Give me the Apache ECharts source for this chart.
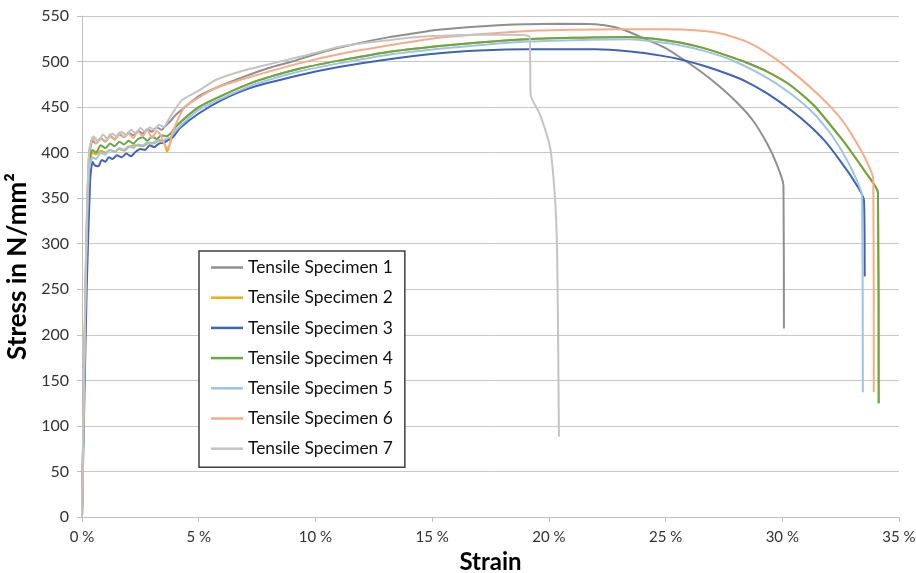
<!DOCTYPE html>
<html>
<head>
<meta charset="utf-8">
<title>Tensile test</title>
<script src="https://cdn.jsdelivr.net/npm/echarts@6/dist/echarts.min.js"></script>
<style>
  html, body {margin:0;padding:0;background:#fff;}
  #chart {width:916px;height:573px;}
</style>
</head>
<body>
<div id="chart"></div>
<script>
// strain in %, stress in N/mm2
var strain1 = [0, 0.15, 0.3, 0.45, 0.6, 0.8, 1.0, 1.2, 1.4, 1.6, 1.8, 2.0, 2.2, 2.4, 2.6, 2.8, 3.0, 3.2, 3.4, 3.6, 3.8, 4.0, 4.5, 5, 6, 7, 8, 9, 10, 11, 12, 13, 14, 15, 16, 17, 18, 19, 20.5, 22, 22.8, 23.4, 24.1, 24.9, 25.6, 26.4, 27.2, 28.1, 28.75, 29.35, 29.75, 30.05, 30.07];
var stress1 = [0, 250, 395, 413, 410, 416, 412, 418, 415, 420, 417, 422, 419, 424, 421, 426, 423, 428, 425, 430, 435, 441, 452, 462, 474, 484, 493, 500, 508, 515, 521, 526, 530, 534, 536.5, 538.5, 540, 541, 541.5, 541, 538, 533, 525, 516, 505, 491, 475, 454, 435, 410, 388, 364, 207];

var strain2 = [0, 0.15, 0.3, 0.45, 0.6, 0.8, 1.0, 1.2, 1.4, 1.6, 1.8, 2.0, 2.3, 2.6, 2.9, 3.1, 3.3, 3.5, 3.65, 3.8, 4.0, 5, 7.2, 9.3, 11, 13, 15.3, 17, 19.1, 21, 23.4, 24.5, 25.6, 26.6, 27.7, 28.35, 29.35, 30.35, 31.35, 32.45, 32.95, 33.55, 34.1, 34.13];
var stress2 = [0, 240, 385, 400, 398, 402, 400, 403, 401, 404, 402, 406, 408, 407, 411, 410, 414, 412, 401, 412, 428, 450, 476, 492, 501, 510, 517, 521, 524.5, 526, 527, 525, 521, 515, 506, 500, 489, 474, 452, 418, 401, 379, 356, 125];

var strain3 = [0, 0.2, 0.35, 0.45, 0.55, 0.7, 0.85, 1.0, 1.15, 1.3, 1.5, 1.7, 1.9, 2.1, 2.3, 2.5, 2.7, 2.9, 3.1, 3.3, 3.5, 3.7, 3.9, 4.2, 5, 6, 7.2, 9.3, 11, 13, 15.3, 17, 19.1, 22, 23.5, 24.8, 25.7, 26.8, 27.7, 28.45, 29.35, 30.35, 31.15, 31.85, 32.45, 33.05, 33.5, 33.53];
var stress3 = [0, 250, 370, 390, 386, 385, 392, 390, 395, 393, 397, 395, 399, 396, 401, 404, 403, 408, 406, 410, 411, 414, 417, 427, 443, 458, 471, 485, 494, 502, 509, 512, 513.5, 513.5, 511, 506.5, 502, 494, 486, 478, 465, 447, 430, 412, 392, 370, 348, 264];

var strain4 = [0, 0.15, 0.3, 0.45, 0.6, 0.8, 1.0, 1.2, 1.4, 1.6, 1.8, 2.0, 2.2, 2.4, 2.6, 2.8, 3.0, 3.2, 3.4, 3.6, 3.8, 4.0, 5, 7.2, 9.3, 11, 13, 15.3, 17, 19.1, 21, 23.4, 24.5, 25.6, 26.6, 27.7, 28.35, 29.35, 30.35, 31.35, 32.45, 32.95, 33.55, 34.1, 34.13];
var stress4 = [0, 250, 390, 403, 400, 408, 405, 410, 407, 412, 409, 413, 410, 415, 417, 413, 418, 415, 419, 418, 421, 428, 450, 476, 492, 501, 510, 517, 521, 524.5, 526, 527, 525, 521, 515, 506, 500, 489, 474, 452, 418, 401, 379, 356, 125];

var strain5 = [0, 0.15, 0.3, 0.45, 0.6, 0.8, 1.0, 1.2, 1.4, 1.6, 1.8, 2.0, 2.2, 2.4, 2.6, 2.8, 3.0, 3.2, 3.4, 3.6, 3.8, 4.0, 5, 7.2, 9.3, 11, 13, 15.3, 17, 19.1, 21, 23.4, 24.5, 25.6, 26.6, 27.8, 29.15, 30.35, 31.35, 32.15, 32.85, 33.42, 33.45];
var stress5 = [0, 240, 380, 395, 393, 400, 398, 403, 401, 405, 403, 407, 405, 409, 408, 411, 410, 413, 412, 415, 417, 424, 447, 473, 489, 498, 507, 514, 518, 522, 523.5, 524.5, 522, 518, 512, 502, 485, 465, 443, 418, 388, 352, 137];

var strain6 = [0, 0.15, 0.3, 0.45, 0.6, 0.8, 1.0, 1.2, 1.4, 1.6, 1.8, 2.0, 2.2, 2.4, 2.6, 2.8, 3.0, 3.2, 3.4, 3.55, 3.7, 3.85, 4.0, 4.4, 5.75, 7.2, 9.3, 11, 13, 15.3, 17, 19.5, 21, 23, 25, 26.4, 27.5, 28.55, 29.65, 30.65, 31.65, 32.55, 33.25, 33.75, 33.9, 33.92];
var stress6 = [0, 260, 400, 417, 410, 415, 412, 420, 414, 422, 417, 421, 416, 423, 418, 425, 416, 424, 418, 408, 405, 420, 430, 450, 471, 483, 498, 508, 517, 526, 530, 534, 535, 535.5, 535.5, 534, 530, 521, 504, 484, 461, 436, 408, 383, 370, 137];

var strain7 = [0, 0.15, 0.3, 0.5, 0.7, 0.9, 1.1, 1.3, 1.5, 1.7, 1.9, 2.1, 2.3, 2.5, 2.7, 2.9, 3.1, 3.3, 3.5, 3.7, 4.0, 4.3, 5, 5.75, 7.2, 9.3, 11, 12, 13, 14, 15, 16, 17, 18, 19.0, 19.18, 19.2, 19.22, 19.6, 20.05, 20.26, 20.35, 20.4, 20.43];
var stress7 = [0, 260, 400, 418, 412, 420, 415, 421, 417, 423, 419, 425, 421, 427, 423, 428, 425, 431, 428, 436, 448, 458, 468, 480, 492, 505, 516, 520, 523, 526, 528, 529, 529.5, 529.5, 529, 527, 500, 463, 443, 406, 351, 296, 187, 88];

var names = ['Tensile Specimen 1', 'Tensile Specimen 2', 'Tensile Specimen 3', 'Tensile Specimen 4',
             'Tensile Specimen 5', 'Tensile Specimen 6', 'Tensile Specimen 7'];
var colors = ['#8f8f8f', '#e6b10f', '#3e64b2', '#6aa548', '#9ec3e6', '#f3ad8c', '#c4c4c4'];
var strains = [strain1, strain2, strain3, strain4, strain5, strain6, strain7];
var stresses = [stress1, stress2, stress3, stress4, stress5, stress6, stress7];

var xTicks = [0, 5, 10, 15, 20, 25, 30, 35];

function pairs(xs, ys) {
  var out = [];
  for (var i = 0; i < xs.length; i++) out.push([xs[i], ys[i]]);
  return out;
}

var font = 'Lato, "Open Sans", sans-serif';
var series = [];
for (var i = 0; i < names.length; i++) {
  series.push({
    name: names[i],
    type: 'line',
    symbol: 'none',
    smooth: 0.2,
    data: pairs(strains[i], stresses[i]),
    lineStyle: {width: 2, color: colors[i]},
    itemStyle: {color: colors[i]}
  });
}

var chart = echarts.init(document.getElementById('chart'));
chart.setOption({
  animation: false,
  backgroundColor: '#fff',
  textStyle: {fontFamily: font},
  grid: {left: 82, right: 17, top: 16, bottom: 56, outerBoundsMode: 'none'},
  legend: {
    orient: 'vertical',
    left: 199,
    top: 251,
    data: names,
    icon: 'rect',
    backgroundColor: '#fff',
    borderColor: '#404040',
    borderWidth: 1.5,
    padding: [8, 12, 10, 12],
    itemWidth: 32,
    itemHeight: 2.5,
    itemGap: 13.2,
    textStyle: {fontSize: 17.4, color: '#111', fontFamily: font}
  },
  xAxis: {
    type: 'value',
    min: xTicks[0],
    max: xTicks[xTicks.length - 1],
    interval: 5,
    name: 'Strain',
    nameLocation: 'middle',
    nameGap: 33,
    nameTextStyle: {fontSize: 24, fontWeight: 'bold', color: '#000', fontFamily: font},
    axisLine: {show: true, lineStyle: {color: '#bfbfbf', width: 1}},
    axisTick: {show: true, length: 5, lineStyle: {color: '#bfbfbf'}},
    axisLabel: {fontSize: 15, color: '#333', margin: 13, formatter: function (v) { return v + ' %'; }},
    splitLine: {show: false}
  },
  yAxis: {
    type: 'value',
    min: 0,
    max: 550,
    interval: 50,
    name: 'Stress in N/mm²',
    nameLocation: 'middle',
    nameGap: 49,
    nameRotate: 90,
    nameTextStyle: {fontSize: 26, fontWeight: 'bold', color: '#000', fontFamily: font},
    axisLine: {show: true, lineStyle: {color: '#bfbfbf', width: 1}},
    axisTick: {show: true, length: 5, lineStyle: {color: '#bfbfbf'}},
    axisLabel: {fontSize: 16, color: '#333', margin: 13},
    splitLine: {show: true, lineStyle: {color: '#c8c8c8', width: 1}}
  },
  series: series
});
</script>
</body>
</html>
